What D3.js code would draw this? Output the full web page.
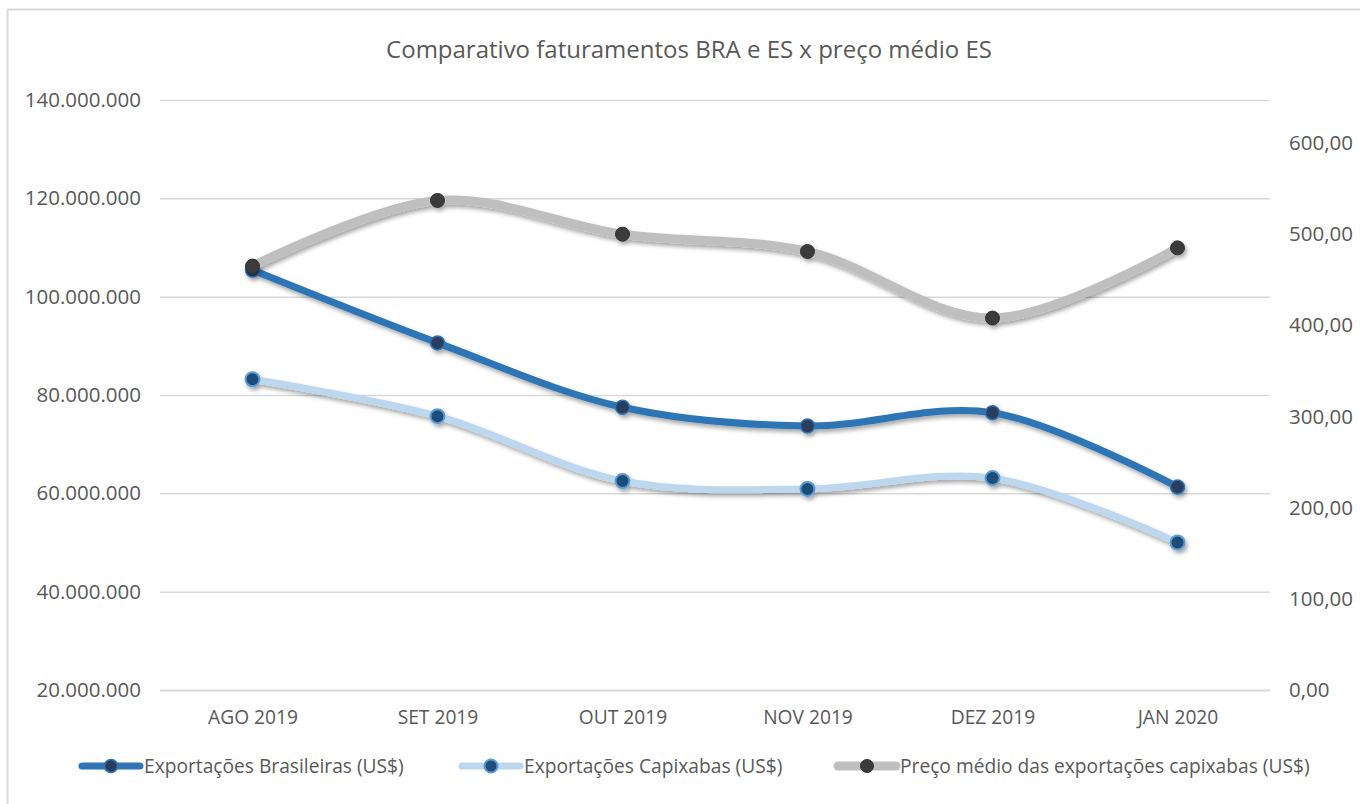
<!DOCTYPE html>
<html>
<head>
<meta charset="utf-8">
<script src="https://cdn.jsdelivr.net/npm/d3@7/dist/d3.min.js"></script>
<style>
  html, body { margin: 0; padding: 0; background: #fff; }
  svg { display: block; font-family: "Open Sans", "Noto Sans", sans-serif; }
</style>
</head>
<body>
<svg id="chart" width="1360" height="804"></svg>
<script>
const title = "Comparativo faturamentos BRA e ES x preço médio ES";
const categories = ["AGO 2019", "SET 2019", "OUT 2019", "NOV 2019", "DEZ 2019", "JAN 2020"];
const exportacoesBrasileiras = [105400000, 90600000, 77500000, 73700000, 76400000, 61300000];
const exportacoesCapixabas = [83200000, 75700000, 62500000, 60900000, 63100000, 50000000];
const precoMedio = [465, 537, 500, 481, 408, 485];
const leftTicks = [20000000, 40000000, 60000000, 80000000, 100000000, 120000000, 140000000];
const rightTicks = [0, 100, 200, 300, 400, 500, 600];
const seriesNames = ["Exportações Brasileiras (US$)", "Exportações Capixabas (US$)", "Preço médio das exportações capixabas (US$)"];

const svg = d3.select("#chart");
const W = 1360, H = 804;
const plot = { left: 160, right: 1270, top: 100, bottom: 690 };
const textColor = "#595959";

// drop shadow
const defs = svg.append("defs");
const f = defs.append("filter").attr("id", "shadow").attr("x", "-10%").attr("y", "-30%").attr("width", "130%").attr("height", "180%");
f.append("feDropShadow").attr("dx", 2).attr("dy", 3).attr("stdDeviation", 2.2)
  .attr("flood-color", "#000").attr("flood-opacity", 0.35);

// border
svg.append("rect").attr("x", 7.5).attr("y", 9.5).attr("width", W + 20).attr("height", H + 20)
  .attr("fill", "none").attr("stroke", "#d9d9d9").attr("stroke-width", 2);

const x = d3.scalePoint().domain(categories).range([plot.left, plot.right]).padding(0.5);
const yL = d3.scaleLinear().domain([20000000, 140000000]).range([plot.bottom, plot.top]);
const yR = d3.scaleLinear().domain([0, 647.2]).range([plot.bottom, plot.top]);

const fmtL = v => d3.format(",")(v).replace(/,/g, ".");
const fmtR = v => d3.format(".2f")(v).replace(".", ",");

// title
svg.append("text").attr("x", 689).attr("y", 58).attr("text-anchor", "middle")
  .attr("font-size", 24).attr("fill", textColor).text(title);

// gridlines
const grid = svg.append("g").attr("transform", `translate(${plot.left},0)`)
  .call(d3.axisLeft(yL).tickValues(leftTicks).tickSize(-(plot.right - plot.left)).tickFormat(""));
grid.select(".domain").remove();
grid.selectAll(".tick line").attr("stroke", "#d9d9d9").attr("stroke-width", 1.5);
grid.selectAll(".tick").filter(d => d === 20000000).select("line").attr("stroke-width", 2.2);

// left axis
const axL = svg.append("g").attr("transform", `translate(141,0)`)
  .call(d3.axisLeft(yL).tickValues(leftTicks).tickSize(0).tickPadding(0).tickFormat(fmtL));
axL.select(".domain").remove();
axL.selectAll("text").attr("font-size", 20.5).attr("fill", textColor).attr("font-family", "Open Sans");

// right axis
const axR = svg.append("g").attr("transform", `translate(1289,0)`)
  .call(d3.axisRight(yR).tickValues(rightTicks).tickSize(0).tickPadding(0).tickFormat(fmtR));
axR.select(".domain").remove();
axR.selectAll("text").attr("font-size", 20.5).attr("fill", textColor).attr("font-family", "Open Sans");

// x axis
const axX = svg.append("g").attr("transform", `translate(0,${plot.bottom + 20})`)
  .call(d3.axisBottom(x).tickSize(0).tickPadding(0));
axX.select(".domain").remove();
axX.selectAll("text").attr("font-size", 19.2).attr("fill", textColor).attr("font-family", "Open Sans").attr("dy", "0.71em");

const curve = d3.curveCatmullRom.alpha(0.5);
const styles = [
  { data: exportacoesBrasileiras, y: yL, line: "#2e75b6", lw: 7, fill: "#2b3d5e", stroke: "#2e75b6", sw: 1.5 },
  { data: exportacoesCapixabas, y: yL, line: "#bdd7ee", lw: 7, fill: "#1f4e79", stroke: "#5b9bd5", sw: 2 },
  { data: precoMedio, y: yR, line: "#bfbfbf", lw: 9, fill: "#3a3a3a", stroke: "#333333", sw: 1 }
];

styles.forEach(s => {
  const g = svg.append("g").attr("filter", "url(#shadow)");
  const line = d3.line().x((d, i) => x(categories[i])).y(d => s.y(d)).curve(curve);
  g.append("path").datum(s.data).attr("d", line).attr("fill", "none")
    .attr("stroke", s.line).attr("stroke-width", s.lw).attr("stroke-linecap", "round");
  g.selectAll("circle").data(s.data).join("circle")
    .attr("cx", (d, i) => x(categories[i])).attr("cy", d => s.y(d)).attr("r", 7)
    .attr("fill", s.fill).attr("stroke", s.stroke).attr("stroke-width", s.sw);
});

// legend
const legendX = [82, 462, 838];
const ly = 766;
seriesNames.forEach((name, i) => {
  const s = styles[i];
  const g = svg.append("g");
  g.append("line").attr("x1", legendX[i]).attr("x2", legendX[i] + 58).attr("y1", ly).attr("y2", ly)
    .attr("stroke", s.line).attr("stroke-width", s.lw).attr("stroke-linecap", "round");
  g.append("circle").attr("cx", legendX[i] + 29).attr("cy", ly).attr("r", 6.5)
    .attr("fill", s.fill).attr("stroke", s.stroke).attr("stroke-width", s.sw);
  g.append("text").attr("x", legendX[i] + 62).attr("y", ly).attr("dy", "0.35em")
    .attr("font-size", 19.2).attr("fill", textColor).text(name);
});
</script>
</body>
</html>
